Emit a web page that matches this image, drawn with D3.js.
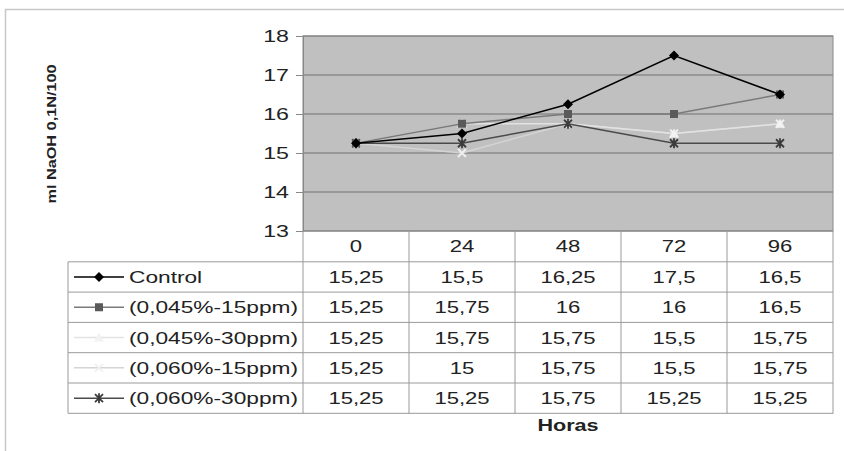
<!DOCTYPE html>
<html><head><meta charset="utf-8">
<script src="https://cdn.jsdelivr.net/npm/d3@7"></script>
<style>body{margin:0;background:#fff;}svg{display:block;font-family:"Liberation Sans",Arial,sans-serif;}</style>
</head><body><svg id="c" width="844" height="451"></svg>
<script>
const categories = ["0","24","48","72","96"];
const seriesNames = ["Control","(0,045%-15ppm)","(0,045%-30ppm)","(0,060%-15ppm)","(0,060%-30ppm)"];
const control = [15.25,15.5,16.25,17.5,16.5];
const s045_15 = [15.25,15.75,16,16,16.5];
const s045_30 = [15.25,15.75,15.75,15.5,15.75];
const s060_15 = [15.25,15,15.75,15.5,15.75];
const s060_30 = [15.25,15.25,15.75,15.25,15.25];
const cellLabels = [
  ["15,25","15,5","16,25","17,5","16,5"],
  ["15,25","15,75","16","16","16,5"],
  ["15,25","15,75","15,75","15,5","15,75"],
  ["15,25","15","15,75","15,5","15,75"],
  ["15,25","15,25","15,75","15,25","15,25"]
];
const yTicks = [13,14,15,16,17,18];
const yLabel = "ml NaOH 0,1N/100";
const xLabel = "Horas";

const seriesValues = [control, s045_15, s045_30, s060_15, s060_30];
const styles = [
  {line:"#000", mark:"diamond", fill:"#000", stroke:"#000"},
  {line:"#7a7a7a", mark:"square", fill:"#5a5a5a", stroke:"#5a5a5a"},
  {line:"#e2e2e2", mark:"triangle", fill:"#f2f2f2", stroke:"#f2f2f2"},
  {line:"#d4d4d4", mark:"x", fill:"none", stroke:"#f0f0f0"},
  {line:"#4a4a4a", mark:"star", fill:"none", stroke:"#3a3a3a"}
];

const SX = 1.38, FS = 16, TXT="#222";
function txt(g, x0, y0, s, anchor, opts={}){
  const t = g.append("text")
    .attr("transform",`translate(${x0},${y0}) scale(${opts.sx||SX},1)`)
    .attr("text-anchor",anchor).attr("font-size",opts.fs||FS).attr("fill",TXT).text(s);
  if(opts.bold) t.attr("font-weight","bold");
  return t;
}

const svg = d3.select("#c");
svg.append("path").attr("d","M5.5,451 V9.5 H844").attr("fill","none").attr("stroke","#c8c8c8").attr("stroke-width",1.5);

const L=303, R=833, T=36, B=231;
const x = d3.scaleBand().domain(categories).range([L,R]);
const y = d3.scaleLinear().domain([13,18]).range([B,T]);

svg.append("rect").attr("x",L).attr("y",T).attr("width",R-L).attr("height",B-T).attr("fill","#c0c0c0");
svg.append("g").selectAll("line").data(yTicks).join("line")
  .attr("x1",L).attr("x2",R).attr("y1",d=>y(d)).attr("y2",d=>y(d))
  .attr("stroke","#707070").attr("stroke-width",1.2);
svg.append("rect").attr("x",L).attr("y",T).attr("width",R-L).attr("height",B-T).attr("fill","none").attr("stroke","#8a8a8a");

const ya = svg.append("g").attr("transform",`translate(${L},0)`)
  .call(d3.axisLeft(y).tickValues(yTicks).tickSize(7).tickPadding(6).tickFormat(""));
ya.select(".domain").attr("stroke","#888");
ya.selectAll(".tick line").attr("stroke","#888");
ya.selectAll(".tick").each(function(d){
  txt(d3.select(this), -14, 5.5, d3.format("d")(d), "end", {sx:1.45});
});

svg.append("text").attr("transform","translate(56,134) rotate(-90) scale(1.25,1)").attr("text-anchor","middle")
  .attr("font-size",13).attr("font-weight","bold").attr("fill",TXT).text(yLabel);

function marker(g, type, cx, cy, st){
  if(type==="diamond"){
    g.append("path").attr("d",`M${cx},${cy-5}L${cx+5},${cy}L${cx},${cy+5}L${cx-5},${cy}Z`).attr("fill",st.fill);
  } else if(type==="square"){
    g.append("rect").attr("x",cx-4).attr("y",cy-4).attr("width",8).attr("height",8).attr("fill",st.fill);
  } else if(type==="triangle"){
    g.append("path").attr("d",`M${cx},${cy-5}L${cx+5},${cy+4}L${cx-5},${cy+4}Z`).attr("fill",st.fill);
  } else if(type==="x"){
    g.append("path").attr("d",`M${cx-4},${cy-4}L${cx+4},${cy+4}M${cx+4},${cy-4}L${cx-4},${cy+4}`).attr("stroke",st.stroke).attr("stroke-width",1.8);
  } else if(type==="star"){
    g.append("path").attr("d",`M${cx-4},${cy-4}L${cx+4},${cy+4}M${cx+4},${cy-4}L${cx-4},${cy+4}M${cx},${cy-5}V${cy+5}`).attr("stroke",st.stroke).attr("stroke-width",1.8);
  }
}

const line = d3.line().x((d,i)=>x(categories[i])+x.bandwidth()/2).y(d=>y(d));
const order=[3,2,4,1,0];
order.forEach(si=>{
  const st=styles[si];
  const g=svg.append("g");
  g.append("path").datum(seriesValues[si]).attr("d",line).attr("fill","none").attr("stroke",st.line).attr("stroke-width",1.5);
  seriesValues[si].forEach((v,i)=>marker(g,st.mark,x(categories[i])+x.bandwidth()/2,y(v),st));
});

const rowH=30.3, tableL=68;
const tg=svg.append("g");
const gridCol="#9a9a9a";
tg.append("line").attr("x1",L).attr("x2",L).attr("y1",B).attr("y2",B+6*rowH+1).attr("stroke",gridCol);
categories.forEach((c,i)=>{
  const x0=x(c);
  tg.append("line").attr("x1",x0+x.bandwidth()).attr("x2",x0+x.bandwidth()).attr("y1",B).attr("y2",B+6*rowH+1).attr("stroke",gridCol);
  txt(tg, x0+x.bandwidth()/2, B+rowH/2+6, c, "middle");
});
for(let r=1;r<=6;r++){
  const yy=B+r*rowH+0.5;
  tg.append("line").attr("x1",tableL).attr("x2",R).attr("y1",yy).attr("y2",yy).attr("stroke",gridCol);
}
tg.append("line").attr("x1",tableL).attr("x2",tableL).attr("y1",B+rowH+0.5).attr("y2",B+6*rowH+0.5).attr("stroke",gridCol);

seriesNames.forEach((n,si)=>{
  const cy=B+(si+1)*rowH+rowH/2+0.5;
  const st=styles[si];
  tg.append("line").attr("x1",74).attr("x2",124).attr("y1",cy).attr("y2",cy).attr("stroke",st.line).attr("stroke-width",1.5);
  marker(tg,st.mark,99,cy,st);
  txt(tg, 129, cy+6, n, "start", {sx:1.42});
  cellLabels[si].forEach((t,i)=>{
    txt(tg, x(categories[i])+x.bandwidth()/2, cy+6, t, "middle");
  });
});

txt(svg, (L+R)/2, 431, xLabel, "middle", {bold:true, sx:1.35});
</script></body></html>
